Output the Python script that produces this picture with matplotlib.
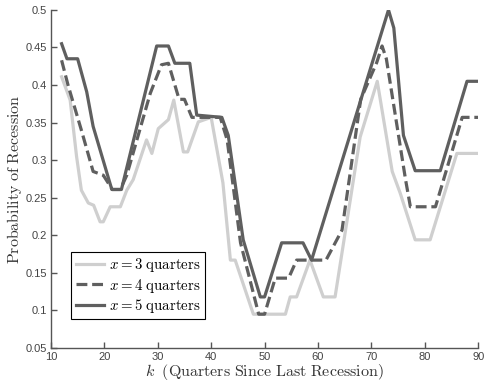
import matplotlib
matplotlib.use("Agg")
import numpy as np
from matplotlib import pyplot as plt

# breakpoints (k, probability)
k_x3 = [12, 13.6, 14.8, 15.7, 17, 18, 19.2, 19.8, 21.1, 23, 24.2, 25.4, 27.9, 28.9, 30.1, 32, 33,
        34.8, 35.6, 37.6, 40, 42.2, 43.6, 44.5, 47.9, 53.9, 54.8, 56, 58.5, 61, 63.2, 67.9, 71.1,
        73.9, 75.4, 78.2, 81, 86, 90]
p_x3 = [0.411, 0.38, 0.305, 0.26, 0.243, 0.24, 0.218, 0.218, 0.238, 0.238, 0.26, 0.274, 0.327,
        0.309, 0.342, 0.354, 0.38, 0.311, 0.311, 0.351, 0.357, 0.27, 0.167, 0.167, 0.095, 0.095,
        0.118, 0.118, 0.167, 0.118, 0.118, 0.331, 0.405, 0.285, 0.256, 0.194, 0.194, 0.309, 0.309]

k_x4 = [12, 13.2, 15.7, 17.9, 19.8, 21.5, 23, 24.2, 28.6, 30.7, 32, 34, 35, 36.4, 41.7, 43,
        45.5, 48.9, 50, 52, 54.5, 56, 61.5, 64.5, 68, 71, 72, 72.8, 76.4, 77.3, 82, 87, 90]
p_x4 = [0.433, 0.40, 0.34, 0.285, 0.28, 0.261, 0.261, 0.28, 0.389, 0.427, 0.429, 0.381, 0.381,
        0.357, 0.357, 0.327, 0.19, 0.095, 0.095, 0.143, 0.143, 0.167, 0.167, 0.207, 0.381, 0.43,
        0.452, 0.435, 0.274, 0.238, 0.238, 0.357, 0.357]

k_x5 = [12, 13, 15, 16.7, 17.9, 21.4, 23.2, 29.8, 32, 33.2, 36, 37.3, 42, 43.2, 46, 49.2, 50,
        53.2, 57.2, 58.8, 73.2, 74.2, 76, 78.2, 82.9, 87.9, 90]
p_x5 = [0.455, 0.435, 0.435, 0.391, 0.345, 0.261, 0.261, 0.452, 0.452, 0.429, 0.429, 0.36,
        0.357, 0.333, 0.194, 0.118, 0.118, 0.19, 0.19, 0.167, 0.5, 0.476, 0.333, 0.286, 0.286,
        0.405, 0.405]

x_ticks = [10, 20, 30, 40, 50, 60, 70, 80, 90]
y_ticks = [0.05, 0.1, 0.15, 0.2, 0.25, 0.3, 0.35, 0.4, 0.45, 0.5]
y_tick_labels = ['0.05', '0.1', '0.15', '0.2', '0.25', '0.3', '0.35', '0.4', '0.45', '0.5']

plt.rcParams['mathtext.fontset'] = 'cm'
plt.rcParams['font.family'] = ['Liberation Sans', 'DejaVu Sans']

fig = plt.figure(figsize=(4.85, 3.82), dpi=100)
ax = fig.add_axes([0.105, 0.089, 0.881, 0.885])

ax.plot(k_x3, p_x3, color='#cfcfcf', lw=2.3, label=r'$x = 3$ $\mathrm{quarters}$')
ax.plot(k_x4, p_x4, color='#5f5f5f', lw=2.3, ls=(0, (3.4, 1.5)),
        label=r'$x = 4$ $\mathrm{quarters}$')
ax.plot(k_x5, p_x5, color='#5f5f5f', lw=2.3, label=r'$x = 5$ $\mathrm{quarters}$')

ax.set_xlim(10, 90)
ax.set_ylim(0.05, 0.5)
ax.set_xticks(x_ticks)
ax.set_yticks(y_ticks)
ax.set_yticklabels(y_tick_labels)

axis_col = '#555555'
for side in ['top', 'right']:
    ax.spines[side].set_visible(False)
for side in ['left', 'bottom']:
    ax.spines[side].set_color(axis_col)
    ax.spines[side].set_linewidth(1.0)
ax.tick_params(direction='in', length=4, width=1.0, color=axis_col,
               labelcolor='#444444', labelsize=8, pad=3)

ax.set_xlabel(r'$k\ \;\mathrm{(Quarters\ Since\ Last\ Recession)}$', fontsize=11.5,
              color='#333333', labelpad=0)
ax.set_ylabel(r'$\mathrm{Probability\ of\ Recession}$', fontsize=11.5, color='#333333',
              labelpad=1)

leg = ax.legend(loc='lower left', bbox_to_anchor=(0.048, 0.085), borderaxespad=0,
                fontsize=10.7, handlelength=1.9, handletextpad=0.3, borderpad=0.3,
                labelspacing=0.15, fancybox=False, framealpha=1)
leg.get_frame().set_edgecolor('black')
leg.get_frame().set_linewidth(0.8)

fig.savefig('out.png', dpi=100)
